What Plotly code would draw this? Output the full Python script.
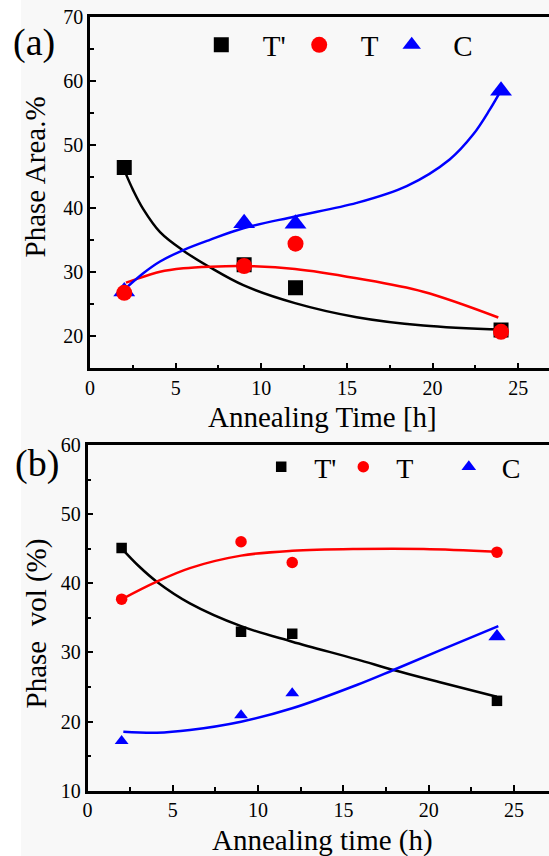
import plotly.graph_objects as go

W, H = 549, 856
SERIF = "Liberation Serif"

# Annealing times (h)
hours = [2, 9, 12, 24]

# (a) phase area fractions (%)
area_tprime = [46.4, 31.2, 27.6, 21.0]
area_t = [26.8, 31.0, 34.5, 20.7]
area_c = [27.0, 37.7, 37.6, 58.4]

# (b) phase volume fractions (%)
vol_tprime = [45.1, 33.0, 32.7, 23.0]
vol_t = [37.7, 46.0, 43.0, 44.5]
vol_c = [17.2, 20.9, 24.1, 32.3]

# fitted trend curves, sampled along each fit
fit_a_tprime_x = [2.0, 2.53, 3.11, 4.09, 5.45, 7.0, 8.95, 11.97, 15.57, 19.46, 24.1]
fit_a_tprime_y = [46.0, 42.8, 39.9, 36.3, 33.4, 30.8, 28.0, 25.2, 23.0, 21.7, 21.05]
fit_a_t_x = [2.1, 2.53, 4.09, 5.45, 7.0, 8.95, 11.97, 15.57, 19.46, 23.84]
fit_a_t_y = [28.4, 28.8, 30.1, 30.64, 30.9, 31.0, 30.53, 29.07, 26.97, 22.94]
fit_a_c_x = [2.0, 3.11, 4.09, 5.45, 7.0, 8.95, 11.97, 15.57, 18.49, 21.0, 22.38, 23.35, 23.94]
fit_a_c_y = [27.3, 29.86, 31.7, 33.5, 35.1, 36.9, 38.76, 40.87, 43.5, 47.67, 51.6, 55.5, 58.2]

fit_b_tprime_x = [2.0, 3.0, 4.06, 6.0, 9.0, 12.0, 15.78, 17.93, 20.66, 23.99]
fit_b_tprime_y = [45.06, 42.5, 40.23, 37.1, 33.8, 31.55, 29.0, 27.46, 25.69, 23.6]
fit_b_t_x = [2.0, 4.06, 6.0, 9.0, 12.0, 15.78, 19.7, 23.99]
fit_b_t_y = [37.68, 40.23, 42.2, 44.0, 44.7, 44.96, 44.96, 44.57]
fit_b_c_x = [2.1, 4.06, 6.0, 9.0, 12.0, 15.78, 17.93, 20.66, 24.08]
fit_b_c_y = [18.53, 18.39, 18.78, 19.98, 21.92, 25.29, 27.46, 30.3, 33.8]

BLACK, RED, BLUE = "#000000", "#ff0000", "#0000ff"


def px_x(v):
    return v / W


def px_y(v):
    return 1 - v / H


def fit_line(fx, fy, col, xa, ya):
    return go.Scatter(x=fx, y=fy, mode="lines", line=dict(color=col, width=2.5, shape="spline"),
                      showlegend=False, xaxis=xa, yaxis=ya, hoverinfo="skip")


def points(xs, ys, name, symbol, size, col, xa, ya, legend):
    return go.Scatter(x=xs, y=ys, mode="markers", name=name,
                      marker=dict(symbol=symbol, size=size, color=col, opacity=1, line=dict(width=0)),
                      xaxis=xa, yaxis=ya, legend=legend)


fig = go.Figure()

# ---- panel (a) ----
fig.add_trace(fit_line(fit_a_tprime_x, fit_a_tprime_y, BLACK, "x", "y"))
fig.add_trace(fit_line(fit_a_t_x, fit_a_t_y, RED, "x", "y"))
fig.add_trace(fit_line(fit_a_c_x, fit_a_c_y, BLUE, "x", "y"))
fig.add_trace(points(hours, area_c, "C", "triangle-up", 19, BLUE, "x", "y", "legend3"))
fig.add_trace(points(hours, area_tprime, "T'", "square", 15, BLACK, "x", "y", "legend"))
fig.add_trace(points(hours, area_t, "T", "circle", 16, RED, "x", "y", "legend2"))

# ---- panel (b) ----
fig.add_trace(fit_line(fit_b_tprime_x, fit_b_tprime_y, BLACK, "x2", "y2"))
fig.add_trace(fit_line(fit_b_t_x, fit_b_t_y, RED, "x2", "y2"))
fig.add_trace(fit_line(fit_b_c_x, fit_b_c_y, BLUE, "x2", "y2"))
fig.add_trace(points(hours, vol_tprime, "T'", "square", 10.5, BLACK, "x2", "y2", "legend4"))
fig.add_trace(points(hours, vol_t, "T", "circle", 11.5, RED, "x2", "y2", "legend5"))
fig.add_trace(points(hours, vol_c, "C", "triangle-up", [12, 12, 12, 15], BLUE, "x2", "y2", "legend6"))

minor_x = dict(ticks="inside", ticklen=4, tickwidth=2, dtick=2.5, tickcolor=BLACK)
minor_y = dict(ticks="inside", ticklen=4, tickwidth=2, dtick=5, tickcolor=BLACK)
axis_common = dict(
    showline=True, linewidth=2.5, linecolor=BLACK,
    ticks="inside", ticklen=6, tickwidth=2, tickcolor=BLACK,
    showgrid=False, zeroline=False, automargin=False,
    tickfont=dict(family=SERIF, size=20, color=BLACK),
)

fig.update_layout(
    width=W, height=H,
    margin=dict(l=0, r=0, t=0, b=0, autoexpand=False),
    paper_bgcolor="#f8f8f8", plot_bgcolor="#f8f8f8",
    xaxis=dict(axis_common, domain=[px_x(90), 1], range=[0, 26.8], anchor="y", mirror=True,
               dtick=5, tick0=0, minor=minor_x),
    yaxis=dict(axis_common, domain=[px_y(368.3), px_y(16.7)], range=[15, 70], anchor="x",
               dtick=10, tick0=0, minor=minor_y),
    xaxis2=dict(axis_common, domain=[px_x(87.5), 1], range=[0, 27.05], anchor="y2", mirror=True,
                dtick=5, tick0=0, minor=minor_x),
    yaxis2=dict(axis_common, domain=[px_y(790.7), px_y(445)], range=[10, 60], anchor="x2",
                dtick=10, tick0=0, minor=minor_y),
    shapes=[dict(type="rect", xref="paper", yref="paper", x0=0, x1=px_x(21), y0=0, y1=1,
                 fillcolor="#ffffff", line=dict(width=0), layer="below")],
)

# one legend entry per phase, placed along the top of each panel
legend_spots = [
    ("legend", 221.3, 45, 29, 73),
    ("legend2", 319.2, 45, 29, 73),
    ("legend3", 411.7, 45, 29, 73),
    ("legend4", 281.2, 467, 28, 56),
    ("legend5", 363.3, 467, 28, 56),
    ("legend6", 468.8, 467, 28, 56),
]
for key, cx, cy, fs, iw in legend_spots:
    fig.update_layout({key: dict(
        x=px_x(cx - (5 + iw / 2)), y=px_y(cy), xanchor="left", yanchor="middle",
        bgcolor="rgba(0,0,0,0)", borderwidth=0, itemwidth=iw,
        font=dict(family=SERIF, size=fs, color=BLACK),
    )})

annotations = [
    ("(a)", 34, 43, 38, 0),
    ("(b)", 37, 463, 38, 0),
    ("Annealing Time [h]", 322, 417, 29, 0),
    ("Phase Area.%", 35, 177.5, 29, -90),
    ("Annealing time (h)", 322, 840, 29, 0),
    ("Phase\u00a0 vol (%)", 36, 623.5, 29, -90),
]
for text, x, y, fs, ang in annotations:
    fig.add_annotation(text=text, x=px_x(x), y=px_y(y), xref="paper", yref="paper",
                       xanchor="center", yanchor="middle", showarrow=False, textangle=ang,
                       font=dict(family=SERIF, size=fs, color=BLACK))

fig.write_html("out.html")
